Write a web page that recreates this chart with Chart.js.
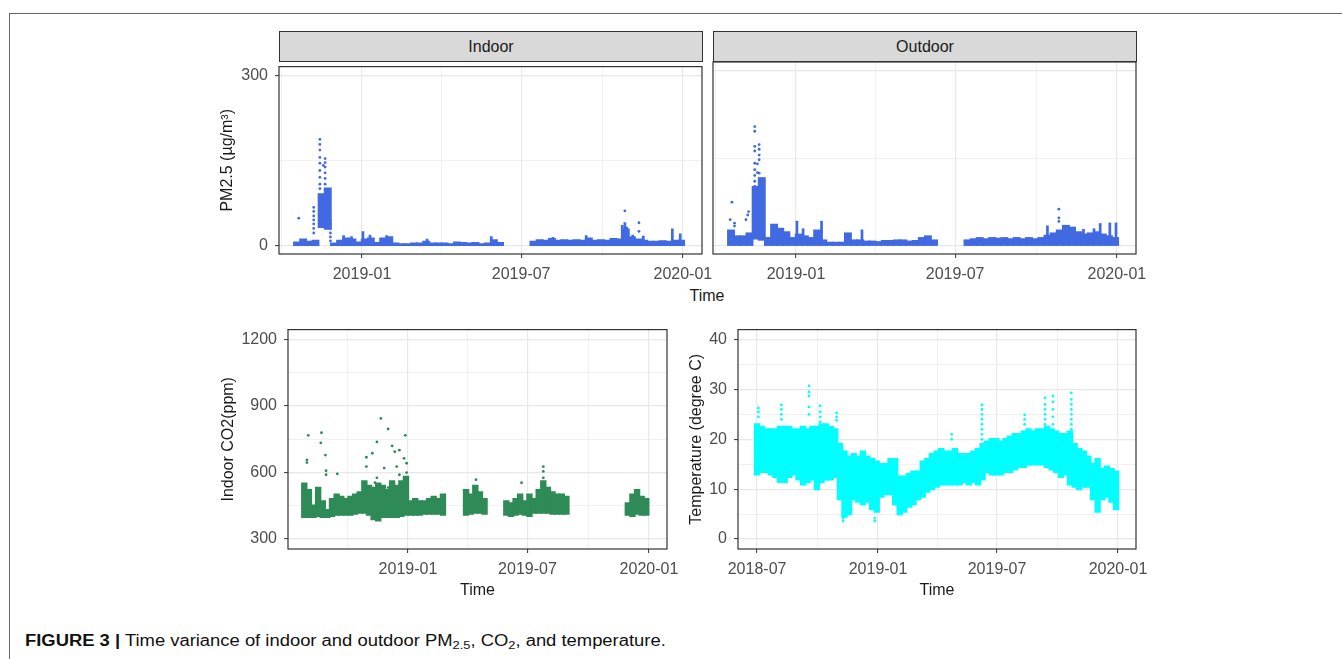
<!DOCTYPE html>
<html>
<head>
<title>Figure 3 - PM2.5, CO2 and temperature</title>
<script src="https://cdn.jsdelivr.net/npm/chart.js"></script>
<style>
    body { margin: 0; background: #fff; font-family: 'Liberation Sans', Arial, sans-serif; }
    .page { position: relative; width: 1342px; height: 659px; overflow: hidden; }
    .frame { position: absolute; left: 9px; top: 13px; right: 0; bottom: 0;
             border-top: 1px solid #666; border-left: 1px solid #666; }
    canvas { position: absolute; }
    .strip { position: absolute; top: 31px; height: 31px; width: 424px; box-sizing: border-box;
             background: #d9d9d9; border: 1px solid #333; text-align: center;
             line-height: 29px; font-size: 16px; color: #1a1a1a; }
    .xtitle { position: absolute; font-size: 16px; color: #1a1a1a; transform: translate(-50%, -50%); }
    .caption { position: absolute; left: 25px; top: 632px; font-size: 16px; line-height: 18px; color: #111;
               white-space: nowrap; transform: scaleX(1.15); transform-origin: left center; }
    .caption sub { font-size: 70%; vertical-align: -3px; line-height: 0; }
</style>
</head>
<body>
<div class="page">
    <div class="frame"></div>
    <div class="strip" style="left:279px">Indoor</div>
    <div class="strip" style="left:713px">Outdoor</div>
    <canvas id="pmIn" width="506" height="234" style="left:218px; top:50px"></canvas>
    <canvas id="pmOut" width="455" height="234" style="left:703px; top:50px"></canvas>
    <canvas id="co2" width="470" height="287" style="left:219px; top:313px"></canvas>
    <canvas id="temp" width="471" height="287" style="left:687px; top:313px"></canvas>
    <div class="xtitle" style="left:707px; top:296px">Time</div>
    <div class="caption"><b>FIGURE 3 |</b> Time variance of indoor and outdoor PM<sub>2.5</sub>, CO<sub>2</sub>, and temperature.</div>
</div>

<script>
// ---- axis ticks ----
const monthTicks  = ['2018-07-01', '2018-10-01', '2019-01-01', '2019-04-01', '2019-07-01', '2019-10-01', '2020-01-01'];
const monthLabels = ['2018-07', '', '2019-01', '', '2019-07', '', '2020-01'];
const pmYTicks   = [0, 150, 300];
const pmYLabels  = ['0', '', '300'];
const co2YTicks  = [300, 450, 600, 750, 900, 1050, 1200];
const co2YLabels = ['300', '', '600', '', '900', '', '1200'];
const tempYTicks  = [0, 5, 10, 15, 20, 25, 30, 35, 40];
const tempYLabels = ['0', '', '10', '', '20', '', '30', '', '40'];

// ---- PM2.5 (weekly band of readings, both facets) ----
const pmDates = [
    '2018-10-19', '2018-10-26', '2018-11-02', '2018-11-09', '2018-11-16', '2018-11-23', '2018-11-30',
    '2018-12-07', '2018-12-14', '2018-12-21', '2018-12-28', '2019-01-04', '2019-01-11', '2019-01-18',
    '2019-01-25', '2019-02-01', '2019-02-08', '2019-02-15', '2019-02-22', '2019-03-01', '2019-03-08',
    '2019-03-15', '2019-03-22', '2019-03-29', '2019-04-05', '2019-04-12', '2019-04-19', '2019-04-26',
    '2019-05-03', '2019-05-10', '2019-05-17', '2019-05-24', '2019-05-31', '2019-06-07',
    '2019-07-15', '2019-07-22', '2019-07-29', '2019-08-05', '2019-08-12', '2019-08-19', '2019-08-26',
    '2019-09-02', '2019-09-09', '2019-09-16', '2019-09-23', '2019-09-30', '2019-10-07', '2019-10-14',
    '2019-10-21', '2019-10-28', '2019-11-04', '2019-11-11', '2019-11-18', '2019-11-25', '2019-12-02',
    '2019-12-09', '2019-12-16', '2019-12-23', '2019-12-30'
];
const pmInLow = [
    0, 0, 0, 0, 33, 30, 0, 0, 0, 0, 0, 0, 0, 0, 0, 0, 0, 0, 0, 0, 0, 0, 0, 0, 0, 0, 0, 0, 0, 0, 0, 0, 0, 0,
    0, 0, 0, 0, 0, 0, 0, 0, 0, 0, 0, 0, 0, 0, 0, 0, 0, 0, 0, 0, 0, 0, 0, 0, 0
];
const pmInHigh = [
    5, 10, 6, 8, 90, 100, 3, 8, 12, 10, 5, 10, 12, 4, 12, 14, 3, 2, 2, 3, 3, 6, 3, 3, 3, 2, 5, 4, 3, 4, 2, 3, 9, 4,
    6, 9, 8, 11, 8, 9, 8, 9, 8, 12, 8, 9, 8, 11, 10, 28, 14, 10, 8, 6, 6, 7, 6, 8, 8
];
const pmOutLow = [
    0, 0, 0, 0, 12, 10, 0, 0, 0, 0, 0, 0, 0, 0, 0, 0, 0, 0, 0, 0, 0, 0, 0, 0, 0, 0, 0, 0, 0, 0, 0, 0, 0, 0,
    0, 0, 0, 0, 0, 0, 0, 0, 0, 0, 0, 0, 0, 0, 0, 0, 0, 0, 0, 0, 0, 0, 0, 0, 0
];
const pmOutHigh = [
    25, 15, 15, 20, 100, 115, 12, 35, 28, 22, 12, 18, 15, 12, 25, 8, 4, 4, 4, 20, 8, 8, 6, 6, 5, 7, 7, 8, 8, 6, 7, 12, 15, 8,
    8, 10, 12, 10, 12, 11, 12, 10, 12, 10, 12, 10, 12, 16, 20, 25, 33, 30, 22, 18, 20, 22, 18, 15, 12
];

// short spikes rising from zero
const pmInSpikeDates = ['2018-12-11', '2018-12-20', '2019-01-02', '2019-01-10', '2019-01-29', '2019-03-16', '2019-05-28',
    '2019-08-06', '2019-09-13', '2019-10-24', '2019-10-27', '2019-10-29', '2019-11-05', '2019-11-17', '2019-12-20', '2019-12-29'];
const pmInSpikeVals = [17, 15, 24, 18, 17, 11, 15, 14, 17, 35, 40, 32, 18, 16, 29, 20];
const pmOutSpikeDates = ['2019-01-02', '2019-01-09', '2019-01-30', '2019-03-17', '2019-10-14', '2019-11-24', '2019-12-06',
    '2019-12-13', '2019-12-24', '2019-12-31'];
const pmOutSpikeVals = [41, 28, 41, 26, 33, 27, 28, 37, 38, 38];

// isolated readings
const pmInDotDates = ['2018-10-21',
    '2018-11-07', '2018-11-07', '2018-11-07', '2018-11-07', '2018-11-07', '2018-11-07', '2018-11-07',
    '2018-11-14', '2018-11-14', '2018-11-14', '2018-11-14', '2018-11-14', '2018-11-14', '2018-11-14', '2018-11-14', '2018-11-14',
    '2018-11-18',
    '2018-11-20', '2018-11-20', '2018-11-20', '2018-11-20', '2018-11-20', '2018-11-20', '2018-11-20',
    '2018-11-26', '2018-11-26', '2018-11-26', '2018-11-26', '2018-11-26', '2018-11-26',
    '2019-10-27', '2019-11-12', '2019-11-12'];
const pmInDotVals = [48,
    67, 60, 52, 45, 38, 30, 22,
    187, 178, 168, 155, 145, 132, 120, 108, 100,
    141,
    153, 146, 138, 128, 118, 108, 98,
    45, 38, 30, 22, 15, 8,
    61, 40, 25];
const pmOutDotDates = ['2018-10-18', '2018-10-20', '2018-10-23', '2018-10-23', '2018-11-05', '2018-11-07', '2018-11-08',
    '2018-11-15', '2018-11-15', '2018-11-15', '2018-11-15', '2018-11-15', '2018-11-15', '2018-11-15', '2018-11-15', '2018-11-15',
    '2018-11-18', '2018-11-18',
    '2018-11-20', '2018-11-20', '2018-11-20', '2018-11-20', '2018-11-20',
    '2019-10-27', '2019-10-27', '2019-10-27'];
const pmOutDotVals = [44, 74, 38, 33, 44, 52, 58,
    204, 196, 170, 162, 141, 130, 120, 110, 101,
    140, 125,
    173, 165, 155, 147, 124,
    62, 47, 41];

// ---- indoor CO2 (weekly band) ----
const co2Dates = [
    '2018-07-28', '2018-08-04', '2018-08-11', '2018-08-18', '2018-08-25', '2018-09-01', '2018-09-08',
    '2018-09-15', '2018-09-22', '2018-09-29', '2018-10-06', '2018-10-13', '2018-10-20', '2018-10-27',
    '2018-11-03', '2018-11-10', '2018-11-17', '2018-11-24', '2018-12-01', '2018-12-08', '2018-12-15',
    '2018-12-22', '2018-12-29', '2019-01-05', '2019-01-12', '2019-01-19', '2019-01-26', '2019-02-02',
    '2019-02-09', '2019-02-16', '2019-02-23',
    '2019-03-30', '2019-04-06', '2019-04-13', '2019-04-20', '2019-04-27',
    '2019-05-30', '2019-06-06', '2019-06-13', '2019-06-20', '2019-06-27', '2019-07-04', '2019-07-11',
    '2019-07-18', '2019-07-25', '2019-08-01', '2019-08-08', '2019-08-15', '2019-08-22', '2019-08-29',
    '2019-11-30', '2019-12-07', '2019-12-14', '2019-12-21', '2019-12-28'
];
const co2Low = [
    400, 400, 400, 405, 400, 400, 405, 410, 410, 410, 410, 415, 420, 420, 410, 390, 385, 400, 400, 400, 400,
    405, 410, 410, 410, 410, 415, 415, 415, 415, 410,
    410, 415, 420, 420, 415,
    410, 405, 410, 415, 410, 405, 420, 420, 420, 420, 415, 415, 415, 415,
    410, 405, 415, 410, 410
];
const co2High = [
    550, 520, 450, 530, 470, 430, 480, 500, 490, 480, 490, 500, 510, 560, 540, 530, 550, 540, 520, 560, 540,
    560, 580, 470, 480, 470, 470, 480, 490, 480, 500,
    520, 500, 540, 510, 480,
    470, 460, 480, 500, 470, 500, 480, 520, 560, 530, 510, 500, 500, 490,
    460, 500, 520, 490, 480
];
const co2DotDates = ['2018-08-01', '2018-08-01', '2018-08-03', '2018-08-22', '2018-08-23', '2018-08-29', '2018-08-30',
    '2018-08-30', '2018-09-16', '2018-10-30', '2018-10-30', '2018-11-08', '2018-11-12', '2018-11-15', '2018-11-15',
    '2018-11-21', '2018-11-26', '2018-12-02', '2018-12-02', '2018-12-08', '2018-12-12', '2018-12-15', '2018-12-19',
    '2018-12-19', '2018-12-26', '2018-12-28', '2018-12-30', '2018-12-30', '2019-04-14', '2019-06-22',
    '2019-07-25', '2019-07-25', '2019-07-25'];
const co2DotVals = [657, 645, 768, 734, 780, 679, 608,
    590, 594, 669, 627, 687, 554, 738, 576,
    844, 620, 797, 532, 720, 694, 627, 701,
    590, 664, 768, 642, 600, 568, 554,
    627, 605, 576];

// ---- temperature (weekly band) ----
const tempDates = [
    '2018-07-01', '2018-07-08', '2018-07-15', '2018-07-22', '2018-07-29', '2018-08-05', '2018-08-12',
    '2018-08-19', '2018-08-26', '2018-09-02', '2018-09-09', '2018-09-16', '2018-09-23', '2018-09-30',
    '2018-10-07', '2018-10-14', '2018-10-21', '2018-10-28', '2018-11-04', '2018-11-11', '2018-11-18',
    '2018-11-25', '2018-12-02', '2018-12-09', '2018-12-16', '2018-12-23', '2018-12-30',
    '2019-01-06', '2019-01-13', '2019-01-20', '2019-01-27', '2019-02-03', '2019-02-10', '2019-02-17',
    '2019-02-24', '2019-03-03', '2019-03-10', '2019-03-17', '2019-03-24', '2019-03-31', '2019-04-07',
    '2019-04-14', '2019-04-21', '2019-04-28', '2019-05-05', '2019-05-12', '2019-05-19', '2019-05-26',
    '2019-06-02', '2019-06-09', '2019-06-16', '2019-06-23', '2019-06-30', '2019-07-07', '2019-07-14',
    '2019-07-21', '2019-07-28', '2019-08-04', '2019-08-11', '2019-08-18', '2019-08-25', '2019-09-01',
    '2019-09-08', '2019-09-15', '2019-09-22', '2019-09-29', '2019-10-06', '2019-10-13', '2019-10-20',
    '2019-10-27', '2019-11-03', '2019-11-10', '2019-11-17', '2019-11-24', '2019-12-01', '2019-12-08',
    '2019-12-15', '2019-12-22', '2019-12-29'
];
const tempLow = [
    13, 13.5, 13.5, 13, 12.5, 11.5, 11.5, 12.5, 13, 12, 11, 11.5, 12, 10, 11.5, 12, 12, 12.5, 8, 4.5, 5,
    8, 7.5, 7, 7.5, 6, 5.5,
    8.5, 9, 9, 7, 5, 5.5, 6.5, 7, 8, 8.5, 9.5, 10, 10.5, 11, 11, 11, 11, 11, 11.5, 11, 11.5, 11, 12, 13.5,
    13, 13, 13, 13.5, 13.5, 14, 14.5, 14.5, 15, 15, 15, 15, 14.5, 14, 13.5, 12.5, 13, 11, 10.5, 10, 10.5,
    10.5, 8, 5.5, 8, 8.5, 7.5, 6
];
const tempHigh = [
    23, 22.5, 22, 22, 22, 22.5, 22.5, 22.5, 22, 22, 22.5, 22, 22.5, 22.5, 23, 23, 22.5, 22, 19, 17.5, 16.5,
    17, 16.5, 17.5, 16.5, 16, 15.5,
    15, 15, 16, 16, 12.5, 12.5, 13, 13.5, 13.5, 15.5, 16, 17, 17.5, 18, 17.5, 17.5, 18, 17, 17, 17, 17.5, 18,
    19, 19.5, 20, 20, 19.5, 20, 20.5, 21, 21, 21.5, 22, 21.5, 22, 22, 22.5, 22, 21.5, 21, 21, 21.5, 19, 18,
    17.5, 16.5, 15, 16, 14, 14.5, 14, 13.5
];
const tempDotDates = ['2018-07-03', '2018-07-03', '2018-07-03', '2018-08-07', '2018-08-07', '2018-08-07', '2018-08-07',
    '2018-09-18', '2018-09-18', '2018-09-18', '2018-09-18', '2018-09-18', '2018-10-05', '2018-10-05', '2018-10-05',
    '2018-10-05', '2018-10-30', '2018-10-30', '2018-10-30', '2018-11-09', '2018-11-09', '2018-12-27', '2018-12-27',
    '2019-04-23', '2019-04-23',
    '2019-06-08', '2019-06-08', '2019-06-08', '2019-06-08', '2019-06-08', '2019-06-08', '2019-06-08', '2019-06-08',
    '2019-08-12', '2019-08-12', '2019-08-12',
    '2019-09-12', '2019-09-12', '2019-09-12', '2019-09-12', '2019-09-12', '2019-09-12',
    '2019-09-24', '2019-09-24', '2019-09-24', '2019-09-24', '2019-09-24',
    '2019-10-22', '2019-10-22', '2019-10-22', '2019-10-22', '2019-10-22', '2019-10-22', '2019-10-22', '2019-10-22'];
const tempDotVals = [26.3, 25.5, 24.5, 26.9, 26, 25, 24,
    30.7, 29.5, 28.7, 26.5, 25, 26.7, 25.5, 24.5,
    23.5, 25.3, 24.5, 23.8, 3.6, 4.2, 3.6, 4.2,
    21, 20,
    26.9, 26, 25, 24, 23, 22, 21, 20,
    24.9, 24, 23,
    28.3, 27, 26, 25, 24, 23,
    28.7, 27.5, 26, 24.5, 23,
    29.3, 28, 27, 26, 25, 24, 23, 22];

// ---- helpers ----
const d = s => Date.parse(s);
const band = (dates, lo, hi) => dates.map((s, i) => ({ x: d(s), y: [lo[i], hi[i]] }));
const spikes = (dates, vals) => dates.map((s, i) => ({ x: d(s), y: [0, vals[i]] }));
const dots = (dates, vals) => dates.map((s, i) => ({ x: d(s), y: vals[i] }));

Chart.defaults.font.family = "'Liberation Sans', Arial, sans-serif";
Chart.defaults.font.size = 16;
Chart.defaults.color = '#4d4d4d';

const isMajor = c => c.tick && c.tick.label !== '';
const gridOpts = {
    color: '#e8e8e8',
    lineWidth: c => isMajor(c) ? 1.2 : 0.6,
    tickColor: c => isMajor(c) ? '#333' : 'rgba(0,0,0,0)',
    tickLength: 4,
    tickWidth: 1
};

// panel border (theme_bw)
const panelBorder = {
    id: 'panelBorder',
    afterDraw(chart) {
        const a = chart.chartArea, ctx = chart.ctx;
        ctx.save();
        ctx.strokeStyle = '#333';
        ctx.lineWidth = 1.2;
        ctx.strokeRect(a.left, a.top, a.right - a.left, a.bottom - a.top);
        ctx.restore();
    }
};

function xScale(min, max, height, title) {
    const vals = monthTicks.map(d);
    return {
        type: 'linear', min: Date.parse(min), max: Date.parse(max), offset: false,
        afterBuildTicks: s => { s.ticks = vals.filter(v => v >= s.min && v <= s.max).map(v => ({ value: v })); },
        afterFit: s => { s.height = height; },
        ticks: { autoSkip: false, maxRotation: 0, padding: 7, callback: v => monthLabels[vals.indexOf(v)] },
        grid: Object.assign({ offset: false }, gridOpts),
        border: { display: false },
        title: { display: !!title, text: title, color: '#1a1a1a', padding: 0 }
    };
}

function yScale(min, max, tickVals, tickLabels, width, title, showLabels) {
    return {
        type: 'linear', min, max,
        afterBuildTicks: s => { s.ticks = tickVals.map(v => ({ value: v })); },
        afterFit: s => { s.width = width; },
        ticks: { display: showLabels, autoSkip: false, padding: 7, callback: v => tickLabels[tickVals.indexOf(v)] },
        grid: Object.assign({}, gridOpts, { drawTicks: showLabels }),
        border: { display: false },
        title: { display: !!title, text: title, color: '#1a1a1a', padding: 0 }
    };
}

function panel(id, datasets, x, y, padding) {
    return new Chart(document.getElementById(id), {
        type: 'bar',
        data: { datasets },
        options: {
            responsive: false,
            animation: false,
            layout: { padding },
            plugins: { legend: { display: false }, tooltip: { enabled: false } },
            scales: { x, y }
        },
        plugins: [panelBorder]
    });
}

// inflateAmount grows each bar a little, like the point size of the original dots
function layers(color, width, bandData, spikeData, dotData) {
    const sets = [
        { type: 'bar', data: bandData, backgroundColor: color, barThickness: width, grouped: false,
          borderWidth: 0, inflateAmount: 1.2 },
        { type: 'scatter', data: dotData, backgroundColor: color, pointRadius: 1.4, pointBorderWidth: 0 }
    ];
    if (spikeData) {
        sets.push({ type: 'bar', data: spikeData, backgroundColor: color, barThickness: 1.5, grouped: false,
                    borderWidth: 0, inflateAmount: 0.6 });
    }
    return sets;
}

const BLUE = '#4169e1', GREEN = '#2e8b57', CYAN = '#00ffff';
const topMin = '2018-09-28T12:00:00Z', topMax = '2020-01-22T18:00:00Z';

panel('pmIn',
    layers(BLUE, 5.5, band(pmDates, pmInLow, pmInHigh), spikes(pmInSpikeDates, pmInSpikeVals), dots(pmInDotDates, pmInDotVals)),
    xScale(topMin, topMax, 30, ''),
    yScale(-15, 315, pmYTicks, pmYLabels, 61, 'PM2.5 (\u00b5g/m\u00b3)', true),
    { left: 0, top: 12, right: 22, bottom: 0 });

panel('pmOut',
    layers(BLUE, 5.5, band(pmDates, pmOutLow, pmOutHigh), spikes(pmOutSpikeDates, pmOutSpikeVals), dots(pmOutDotDates, pmOutDotVals)),
    xScale(topMin, topMax, 30, ''),
    yScale(-15, 315, pmYTicks, pmYLabels, 0, '', false),
    { left: 10, top: 12, right: 22, bottom: 0 });

panel('co2',
    layers(GREEN, 4, band(co2Dates, co2Low, co2High), null, dots(co2DotDates, co2DotVals)),
    xScale('2018-07-03T08:00:00Z', '2020-01-28T08:00:00Z', 51, 'Time'),
    yScale(255, 1245, co2YTicks, co2YLabels, 69, 'Indoor CO2(ppm)', true),
    { left: 0, top: 12, right: 22, bottom: 0 });

panel('temp',
    layers(CYAN, 4, band(tempDates, tempLow, tempHigh), null, dots(tempDotDates, tempDotVals)),
    xScale('2018-06-02T00:00:00Z', '2020-01-28T08:00:00Z', 51, 'Time'),
    yScale(-2, 42, tempYTicks, tempYLabels, 51, 'Temperature (degree C)', true),
    { left: 0, top: 12, right: 22, bottom: 0 });
</script>
</body>
</html>
